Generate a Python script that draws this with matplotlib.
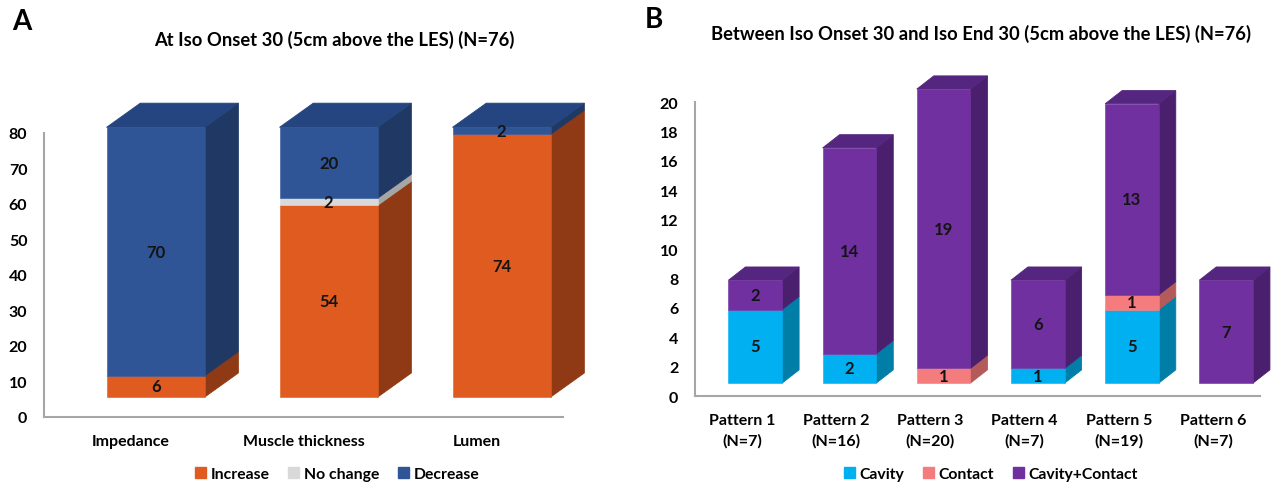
import matplotlib
matplotlib.use("Agg")
import matplotlib.pyplot as plt
from matplotlib.patches import Patch, Polygon

plt.rcParams['font.family'] = ['Lato', 'DejaVu Sans']
plt.rcParams['font.weight'] = 'bold'

# panel A: change at iso onset 30
cats_a = ["Impedance", "Muscle thickness", "Lumen"]
increase = [6, 54, 74]
no_change = [0, 2, 0]
decrease = [70, 20, 2]

# panel B: patterns between iso onset 30 and iso end 30
cats_b = ["Pattern 1\n(N=7)", "Pattern 2\n(N=16)", "Pattern 3\n(N=20)",
          "Pattern 4\n(N=7)", "Pattern 5\n(N=19)", "Pattern 6\n(N=7)"]
cavity = [5, 2, 0, 1, 5, 0]
contact = [0, 0, 1, 0, 1, 0]
cav_contact = [2, 14, 19, 6, 13, 7]


def shade(ax, series, colors, sides, tops, width, shift, floor, dx, dy):
    # stacked bars with a fake 3D side and top face
    n = len(series[0])
    for i in range(n):
        top_idx = max(k for k in range(len(series)) if series[k][i] > 0)
        y0 = floor
        for k, vals in enumerate(series):
            v = vals[i]
            if v <= 0:
                continue
            xl = i + shift - width / 2
            xr = i + shift + width / 2
            y1 = y0 + v
            ax.add_patch(Polygon([(xr, y0), (xr + dx, y0 + dy), (xr + dx, y1 + dy), (xr, y1)],
                                 closed=True, facecolor=sides[k], edgecolor=sides[k],
                                 linewidth=0.6, clip_on=False, zorder=3))
            if k == top_idx:
                ax.add_patch(Polygon([(xl, y1), (xl + dx, y1 + dy), (xr + dx, y1 + dy), (xr, y1)],
                                     closed=True, facecolor=tops[k], edgecolor=tops[k],
                                     linewidth=0.6, clip_on=False, zorder=3))
            ax.bar(i + shift, v, width=width, bottom=y0, color=colors[k],
                   edgecolor=colors[k], linewidth=0.4, clip_on=False, zorder=4)
            ax.text(i + shift, (y0 + y1) / 2, str(v), ha='center', va='center',
                    fontsize=12, fontweight='bold', color='#141414', zorder=5)
            y0 = y1


def style(ax, ncat, ymax_axis, step):
    for s in ['top', 'right']:
        ax.spines[s].set_visible(False)
    for s in ['left', 'bottom']:
        ax.spines[s].set_color('#a6a6a6')
        ax.spines[s].set_linewidth(1.5)
    ax.spines['left'].set_bounds(0, ymax_axis)
    ax.set_xlim(-0.5, ncat - 0.5)
    ax.set_yticks(range(0, ymax_axis + 1, step))
    ax.tick_params(axis='both', length=0, labelsize=11.5)
    ax.tick_params(axis='y', pad=12)
    ax.tick_params(axis='x', pad=12)
    ax.patch.set_alpha(0)


fig = plt.figure(figsize=(12.76, 4.89), dpi=100)

# ---- A ----
ax1 = fig.add_axes([0.0345, 0.1452, 0.4067, 0.726])
ax1.set_ylim(0, 100)
style(ax1, 3, 80, 10)
shade(ax1, [increase, no_change, decrease],
      ['#e05b1f', '#d9d9d9', '#2f5597'],
      ['#8f3a14', '#a6a6a6', '#203864'],
      ['#b34a18', '#bfbfbf', '#24457f'],
      width=0.567, shift=0.145, floor=5.6, dx=0.195, dy=6.8)
ax1.set_xticks(range(3))
ax1.set_xticklabels(cats_a, fontsize=11.5)

fig.text(334 / 1276, 1 - 40 / 489, "At Iso Onset 30 (5cm above the LES) (N=76)",
         ha='center', va='center', fontsize=13.2, fontweight='bold')
fig.text(12 / 1276, 1 - 22 / 489, "A", ha='left', va='center', fontsize=20, fontweight='bold')
fig.legend(handles=[Patch(color='#e05b1f', label='Increase'),
                    Patch(color='#d9d9d9', label='No change'),
                    Patch(color='#2f5597', label='Decrease')],
           loc='center', bbox_to_anchor=(337 / 1276, 1 - 475 / 489), ncol=3,
           frameon=False, fontsize=11.3, handlelength=0.7, handleheight=0.7,
           handletextpad=0.3, columnspacing=1.2)

# ---- B ----
ax2 = fig.add_axes([0.5447, 0.1881, 0.4428, 0.6613])
ax2.set_ylim(0, 22)
style(ax2, 6, 20, 2)
shade(ax2, [cavity, contact, cav_contact],
      ['#00b0f0', '#f47c7c', '#7030a0'],
      ['#007ea8', '#b45a5a', '#4a1f6e'],
      ['#0096cc', '#d06a6a', '#55267f'],
      width=0.57, shift=0.14, floor=0.88, dx=0.18, dy=0.9)
ax2.set_xticks(range(6))
ax2.set_xticklabels(cats_b, fontsize=11.5, linespacing=1.6)

fig.text(981 / 1276, 1 - 34 / 489,
         "Between Iso Onset 30 and Iso End 30 (5cm above the LES) (N=76)",
         ha='center', va='center', fontsize=13.2, fontweight='bold')
fig.text(645 / 1276, 1 - 20 / 489, "B", ha='left', va='center', fontsize=20, fontweight='bold')
fig.legend(handles=[Patch(color='#00b0f0', label='Cavity'),
                    Patch(color='#f47c7c', label='Contact'),
                    Patch(color='#7030a0', label='Cavity+Contact')],
           loc='center', bbox_to_anchor=(991 / 1276, 1 - 475 / 489), ncol=3,
           frameon=False, fontsize=11.3, handlelength=0.7, handleheight=0.7,
           handletextpad=0.3, columnspacing=1.2)

fig.savefig("out.png", dpi=100)
